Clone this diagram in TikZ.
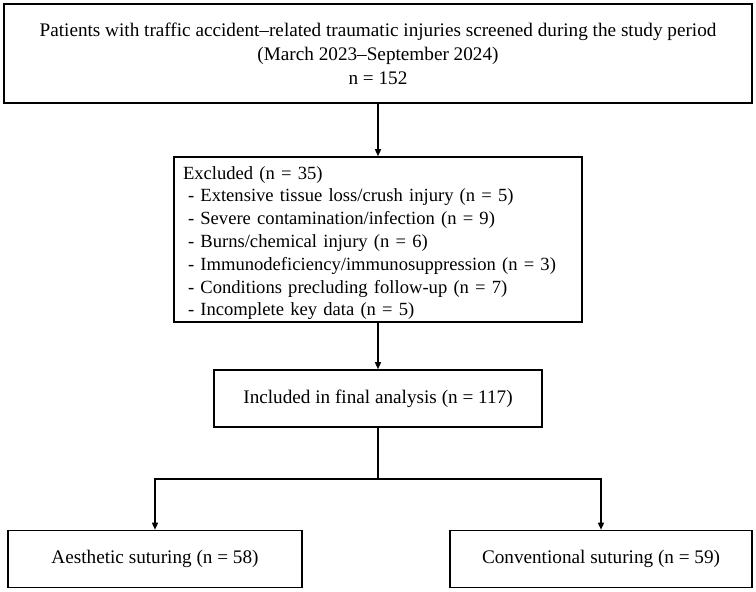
\documentclass[tikz,border=0pt]{standalone}
\usepackage{fontspec}
\setmainfont{Liberation Serif}
\usepackage{tikz}
\usetikzlibrary{arrows.meta,positioning}

\begin{document}
\begin{tikzpicture}[
  x=1pt, y=-1pt,
  box/.style={draw, line width=1.6pt, inner sep=0pt,
    font=\fontsize{19.2}{24}\selectfont},
  arr/.style={-{Triangle[length=7pt,width=6pt]}, line width=1.4pt}
]
\useasboundingbox (0,0) rectangle (756,592);
\node[box, minimum width=748pt, minimum height=99pt, align=center] (screen) at (378,53.5)
  {Patients with traffic accident--related traumatic injuries screened during the study period\\
   (March 2023--September 2024)\\ n = 152};
\node[box, minimum width=408pt, minimum height=165pt, text width=390pt, inner xsep=9pt,
  align=left, font=\fontsize{18.6}{22.8}\selectfont] (excl) at (378,239.5)
  {\rule{0pt}{20pt}Excluded (n = 35)\\
   \hspace*{5pt}- Extensive tissue loss/crush injury (n = 5)\\
   \hspace*{5pt}- Severe contamination/infection (n = 9)\\
   \hspace*{5pt}- Burns/chemical injury (n = 6)\\
   \hspace*{5pt}- Immunodeficiency/immunosuppression (n = 3)\\
   \hspace*{5pt}- Conditions precluding follow-up (n = 7)\\
   \hspace*{5pt}- Incomplete key data (n = 5)};
\node[box, minimum width=328pt, minimum height=57pt] (incl) at (378,398.5)
  {Included in final analysis (n = 117)};
\node[box, minimum width=294pt, minimum height=57pt] (aes) at (155,559)
  {Aesthetic suturing (n = 58)};
\node[box, minimum width=302pt, minimum height=57pt] (conv) at (601,559)
  {Conventional suturing (n = 59)};
\coordinate (split) at (378,479);
\draw[arr] (screen) -- (excl);
\draw[arr] (excl) -- (incl);
\draw[line width=1.4pt] (incl.south) -- (split);
\draw[arr] (split) -| (aes.north);
\draw[arr] (split) -| (conv.north);
\end{tikzpicture}
\end{document}
